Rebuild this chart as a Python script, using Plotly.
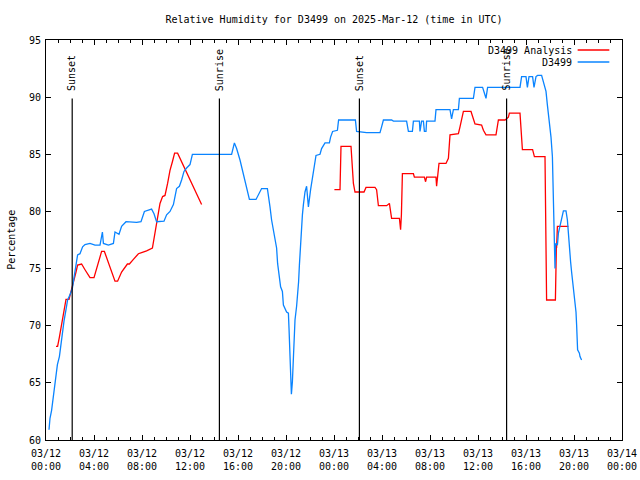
import pandas as pd
import plotly.graph_objects as go

START = pd.Timestamp("2025-03-12 00:00")

# D3499 observations: minutes after 2025-03-12 00:00 UTC, relative humidity (%)
obs_minutes = [15, 20, 28, 37, 45, 57, 67, 73, 82, 90, 100, 108, 120, 132, 140, 148, 158, 170, 183, 195,
               220, 245, 270, 282, 287, 312, 337, 345, 365, 378, 400, 453, 475, 492, 528, 540, 553, 590, 603, 620,
               637, 653, 667, 678, 690, 703, 720, 732, 928, 942, 953, 970, 987, 1003, 1017, 1050, 1078, 1107, 1117, 1120,
               1128, 1137, 1145, 1153, 1158, 1167, 1173, 1182, 1187, 1203, 1212, 1215, 1220, 1223, 1227, 1232, 1237, 1240, 1245, 1253,
               1258, 1263, 1267, 1272, 1275, 1282, 1287, 1290, 1295, 1303, 1312, 1323, 1333, 1340, 1350, 1370, 1378, 1395, 1417, 1423,
               1433, 1457, 1463, 1547, 1553, 1603, 1670, 1678, 1687, 1728, 1737, 1803, 1812, 1832, 1837, 1867, 1870, 1878, 1887, 1892,
               1900, 1903, 1945, 1950, 2020, 2028, 2037, 2062, 2067, 2137, 2145, 2183, 2195, 2200, 2208, 2370, 2378, 2400, 2407, 2415,
               2433, 2440, 2450, 2458, 2478, 2487, 2500, 2507, 2517, 2525, 2532, 2537, 2540, 2545, 2548, 2557, 2562, 2570, 2578, 2587,
               2600, 2607, 2612, 2617, 2623, 2628, 2633, 2640, 2645, 2650, 2653, 2657, 2658, 2667, 2670, 2678]
obs_values = [60.9, 61.9, 62.6, 63.8, 65.0, 66.6, 67.3, 68.2, 69.4, 70.4, 71.4, 72.25, 72.7, 73.3, 74.2, 75.0, 76.2, 76.3, 76.9, 77.1,
              77.2, 77.05, 77.05, 78.2, 77.2, 77.05, 77.2, 78.2, 78.0, 78.7, 79.1, 79.05, 79.1, 80.0, 80.2, 79.8, 79.1, 79.15, 79.7, 80.0,
              80.6, 82.0, 82.2, 82.75, 83.5, 83.8, 84.1, 85.0, 85.0, 86.0, 85.5, 84.5, 83.3, 81.9, 81.05, 81.05, 82.0, 82.0, 81.0, 80.4,
              79.25, 78.4, 77.5, 76.8, 75.45, 74.3, 73.4, 73.0, 71.8, 71.2, 71.1, 69.8, 67.6, 65.1, 64.0, 65.1, 67.0, 69.0, 70.5, 71.7,
              72.5, 73.85, 75.3, 76.8, 78.4, 79.7, 80.6, 81.0, 81.7, 82.2, 80.4, 81.9, 83.0, 83.9, 84.9, 85.0, 85.5, 86.0, 86.0, 86.5,
              87.0, 87.1, 88.0, 88.0, 87.0, 86.9, 86.9, 87.4, 88.0, 88.0, 87.9, 87.9, 87.0, 87.0, 87.9, 87.9, 87.0, 87.9, 87.9, 87.0,
              87.0, 87.9, 87.9, 88.9, 88.9, 88.1, 88.9, 88.9, 89.9, 89.9, 90.85, 90.85, 90.3, 89.9, 90.85, 90.85, 91.8, 91.8, 90.85, 91.8,
              91.8, 90.85, 91.8, 91.9, 91.9, 91.35, 90.5, 89.3, 88.0, 86.5, 84.8, 81.0, 77.8, 75.0, 77.2, 77.05, 78.1, 78.7, 79.1, 80.05,
              80.05, 79.25, 78.1, 76.5, 75.6, 74.7, 73.85, 73.1, 72.25, 71.2, 70.1, 69.0, 67.9, 67.6, 67.3, 67.0]

# D3499 Analysis: minutes after 2025-03-12 00:00 UTC, relative humidity (%); None = gap
ana_minutes = [50, 58, 67, 75, 83, 92, 100, 115, 123, 132, 142, 150, 158, 178, 195, 220, 240, 257, 278, 292,
               320, 345, 358, 378, 407, 417, 437, 462, 478, 503, 532, 545, 557, 570, 583, 595, 608, 620, 632, 643,
               658, 678, 703, 728, 753, 778, 1100,
               1442, 1470, 1475, 1525, 1537, 1545, 1590, 1600, 1645, 1653, 1662, 1703, 1717, 1723, 1728, 1767, 1770, 1773, 1777,
               1782, 1837, 1842, 1892, 1898, 1903, 1950, 1953, 1958, 1965, 2000, 2012, 2020, 2062, 2070, 2078, 2087, 2125, 2133,
               2145, 2178, 2187, 2200, 2250, 2262, 2295, 2312, 2317, 2370, 2375, 2382, 2433, 2442, 2495, 2500, 2503, 2547, 2548,
               2552, 2553, 2557, 2612]
ana_values = [68.2, 68.2, 69.0, 69.9, 70.8, 71.7, 72.3, 72.3, 72.8, 73.6, 74.1, 74.7, 75.3, 75.4, 74.9, 74.2, 74.2, 75.3, 76.5, 76.5,
              75.2, 73.9, 73.9, 74.7, 75.4, 75.4, 75.8, 76.3, 76.4, 76.55, 76.8, 78.2, 79.7, 80.7, 81.3, 81.4, 82.45, 83.6, 84.35, 85.1,
              85.1, 84.35, 83.5, 82.45, 81.6, 80.6, None,
              81.9, 81.9, 85.7, 85.7, 82.45, 81.7, 81.7, 82.1, 82.1, 81.9, 80.5, 80.5, 80.7, 79.7, 79.4, 79.4, 78.95, 78.4, 79.7,
              83.3, 83.3, 83.0, 83.0, 82.6, 83.0, 83.0, 82.2, 83.0, 84.2, 84.2, 84.65, 86.7, 86.8, 87.4, 88.1, 88.75, 88.75, 88.25,
              87.65, 87.55, 87.1, 86.7, 86.7, 88.0, 88.0, 88.25, 88.6, 88.6, 87.4, 85.4, 85.4, 84.8, 84.8, 78.5, 72.25, 72.25, 73.85,
              77.05, 76.8, 78.7, 78.7]

# Sun events (UTC)
sun_times = ["2025-03-12 02:11", "2025-03-12 14:27", "2025-03-13 02:07", "2025-03-13 14:23"]
sun_labels = ["Sunset", "Sunrise", "Sunset", "Sunrise"]

# Axis ticks
x_tick_times = ["2025-03-12 00:00", "2025-03-12 04:00", "2025-03-12 08:00", "2025-03-12 12:00",
                "2025-03-12 16:00", "2025-03-12 20:00", "2025-03-13 00:00", "2025-03-13 04:00",
                "2025-03-13 08:00", "2025-03-13 12:00", "2025-03-13 16:00", "2025-03-13 20:00",
                "2025-03-14 00:00"]
x_tick_labels = ["03/12<br>00:00", "03/12<br>04:00", "03/12<br>08:00", "03/12<br>12:00",
                 "03/12<br>16:00", "03/12<br>20:00", "03/13<br>00:00", "03/13<br>04:00",
                 "03/13<br>08:00", "03/13<br>12:00", "03/13<br>16:00", "03/13<br>20:00",
                 "03/14<br>00:00"]
y_ticks = [60, 65, 70, 75, 80, 85, 90, 95]

FONT = "DejaVu Sans Mono"
RED = "#ff0000"
BLUE = "#0a84ff"

obs_x = [START + pd.Timedelta(minutes=m) for m in obs_minutes]
ana_x = [START + pd.Timedelta(minutes=m) for m in ana_minutes]

fig = go.Figure()
fig.add_trace(go.Scatter(x=ana_x, y=ana_values, mode="lines", name="D3499 Analysis",
                         line=dict(color=RED, width=1.3), connectgaps=False, showlegend=False))
fig.add_trace(go.Scatter(x=obs_x, y=obs_values, mode="lines", name="D3499",
                         line=dict(color=BLUE, width=1.3), showlegend=False))

shapes = []
annotations = []
for t, lab in zip(sun_times, sun_labels):
    shapes.append(dict(type="line", xref="x", yref="paper", x0=t, x1=t, y0=0, y1=0.854,
                       line=dict(color="black", width=1.2)))
    annotations.append(dict(x=t, xref="x", y=0.868, yref="paper", text=lab, textangle=-90,
                            showarrow=False, xanchor="center", yanchor="bottom",
                            font=dict(family=FONT, size=10, color="black")))

# Legend (gnuplot style: label then line sample)
legend_items = [("D3499 Analysis", RED, 0.975), ("D3499", BLUE, 0.945)]
for name, col, yy in legend_items:
    annotations.append(dict(x=0.916, xref="paper", y=yy, yref="paper", text=name, showarrow=False,
                            xanchor="right", yanchor="middle", font=dict(family=FONT, size=10, color="black")))
    shapes.append(dict(type="line", xref="paper", yref="paper", x0=0.923, x1=0.978, y0=yy, y1=yy,
                       line=dict(color=col, width=1.3)))

annotations.append(dict(x=-0.061, xref="paper", y=0.5, yref="paper", text="Percentage", textangle=-90,
                        showarrow=False, xanchor="center", yanchor="middle",
                        font=dict(family=FONT, size=10, color="black")))

fig.update_layout(
    width=640, height=480,
    margin=dict(l=46, r=18, t=40, b=40, autoexpand=False),
    paper_bgcolor="white", plot_bgcolor="white",
    title=dict(text="Relative Humidity for D3499 on 2025-Mar-12 (time in UTC)",
               x=334 / 640, xanchor="center", y=1 - 19 / 480, yanchor="middle",
               font=dict(family=FONT, size=10, color="black")),
    font=dict(family=FONT, size=10, color="black"),
    shapes=shapes, annotations=annotations,
    showlegend=False,
)
fig.update_xaxes(type="date", range=["2025-03-12 00:00", "2025-03-14 00:00"],
                 tickvals=x_tick_times, ticktext=x_tick_labels, automargin=False,
                 ticklabelstandoff=4,
                 showline=True, linecolor="black", linewidth=1, mirror="allticks",
                 ticks="inside", ticklen=5, tickcolor="black", showgrid=False, zeroline=False,
                 tickfont=dict(family=FONT, size=10, color="black"),
                 minor=dict(dtick=3600000, ticks="inside", ticklen=3, tickcolor="black", showgrid=False))
fig.update_yaxes(range=[60, 95], tickvals=y_ticks, automargin=False,
                 ticklabelstandoff=2,
                 showline=True, linecolor="black", linewidth=1, mirror="allticks",
                 ticks="inside", ticklen=5, tickcolor="black", showgrid=False, zeroline=False,
                 tickfont=dict(family=FONT, size=10, color="black"))

fig.write_html("out.html", config={"displayModeBar": False},
               post_script="document.body.style.margin='0';document.body.style.overflow='hidden';")
